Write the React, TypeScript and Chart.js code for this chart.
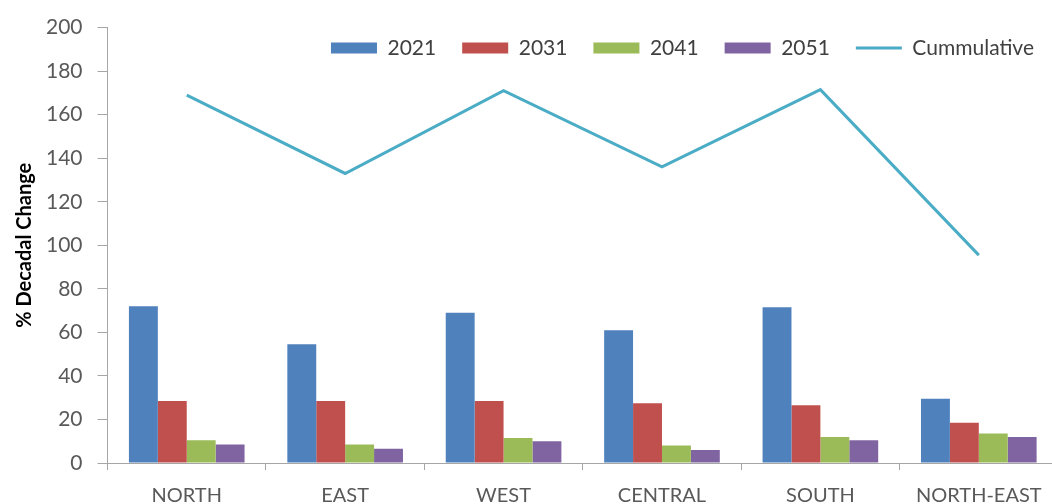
import React, { useEffect, useRef } from "react";
import { Chart, registerables } from "chart.js";

Chart.register(...registerables);

const categories = ["NORTH", "EAST", "WEST", "CENTRAL", "SOUTH", "NORTH-EAST"];
const values2021 = [72, 54.5, 69, 61, 71.5, 29.5];
const values2031 = [28.5, 28.5, 28.5, 27.5, 26.5, 18.5];
const values2041 = [10.5, 8.5, 11.5, 8, 12, 13.5];
const values2051 = [8.5, 6.5, 10, 6, 10.5, 12];
const cumulative = [169, 133, 171, 136, 171.5, 95.5];
const yTicks = [0, 20, 40, 60, 80, 100, 120, 140, 160, 180, 200];

const FONT = "Lato, 'Liberation Sans', sans-serif";
const GRAY_TEXT = "#595959";
const AXIS = "#a6a6a6";
const LEGEND_TOP_OFFSET = -16;
const LEGEND_X_OFFSET = 2;

// Let the legend float over the plot area instead of reserving space above it.
const floatingLegend = {
  id: "floatingLegend",
  beforeLayout(chart: any) {
    const lg = chart.legend;
    if (lg && !lg.__patched) {
      const origFit = lg.fit.bind(lg);
      lg.fit = function () {
        origFit();
        this.__realHeight = this.height;
        this.height = 0;
      };
      lg.__patched = true;
    }
  },
  afterLayout(chart: any) {
    const lg = chart.legend;
    if (lg) {
      lg.top = chart.chartArea.top + LEGEND_TOP_OFFSET;
      lg.bottom = lg.top + (lg.__realHeight || 0);
      lg.height = lg.__realHeight || 0;
      lg.left += LEGEND_X_OFFSET;
      lg.right += LEGEND_X_OFFSET;
    }
  },
};

export default function App() {
  const ref = useRef<HTMLCanvasElement | null>(null);
  useEffect(() => {
    if (!ref.current) return;
    const chart = new Chart(ref.current, {
      type: "bar",
      data: {
        labels: categories,
        datasets: [
          { type: "line", label: "Cummulative", data: cumulative, borderColor: "#4bacc6", backgroundColor: "#4bacc6", borderWidth: 3, pointRadius: 0, tension: 0, pointStyle: "line", order: 0 } as any,
          { label: "2021", data: values2021, backgroundColor: "#4f81bd", pointStyle: "rect", order: 1 },
          { label: "2031", data: values2031, backgroundColor: "#c0504d", pointStyle: "rect", order: 1 },
          { label: "2041", data: values2041, backgroundColor: "#9bbb59", pointStyle: "rect", order: 1 },
          { label: "2051", data: values2051, backgroundColor: "#8064a2", pointStyle: "rect", order: 1 },
        ],
      },
      options: {
        animation: false,
        responsive: true,
        maintainAspectRatio: false,
        layout: { padding: { top: 9, right: 4, left: 0, bottom: 0 } },
        datasets: { bar: { barPercentage: 1, categoryPercentage: 0.73 } } as any,
        plugins: {
          tooltip: { enabled: false },
          legend: {
            position: "top",
            align: "end",
            labels: {
              usePointStyle: true,
              pointStyleWidth: 46,
              boxHeight: 11,
              padding: 26,
              color: "#404040",
              font: { family: FONT, size: 21 },
              sort: (a: any, b: any) => (a.text === "Cummulative" ? 1 : b.text === "Cummulative" ? -1 : 0),
            },
          },
        },
        scales: {
          x: {
            offset: true,
            grid: { display: true, drawOnChartArea: false, drawTicks: true, tickLength: 7, color: AXIS, offset: true },
            border: { display: true, color: AXIS },
            ticks: { color: GRAY_TEXT, font: { family: FONT, size: 20 }, padding: 14, maxRotation: 0, autoSkip: false },
          },
          y: {
            min: 0,
            max: 200,
            afterBuildTicks: (axis: any) => {
              axis.ticks = yTicks.map((v) => ({ value: v }));
            },
            grid: { display: true, drawOnChartArea: false, drawTicks: true, tickLength: 10, color: AXIS },
            border: { display: true, color: AXIS },
            ticks: { color: GRAY_TEXT, font: { family: FONT, size: 21 }, padding: 15 },
            title: {
              display: true,
              text: "% Decadal Change",
              color: "#000000",
              font: { family: FONT, size: 20, weight: "bold" },
              padding: { top: 13, bottom: -6 },
            },
          },
        },
      },
      plugins: [floatingLegend],
    });
    return () => chart.destroy();
  }, []);
  return (
    <div style={{ position: "fixed", left: 0, top: 0, width: 1052, height: 504, overflow: "hidden", background: "#ffffff" }}>
      <div style={{ position: "relative", width: 1062, height: 522 }}>
        <canvas ref={ref} />
      </div>
    </div>
  );
}
